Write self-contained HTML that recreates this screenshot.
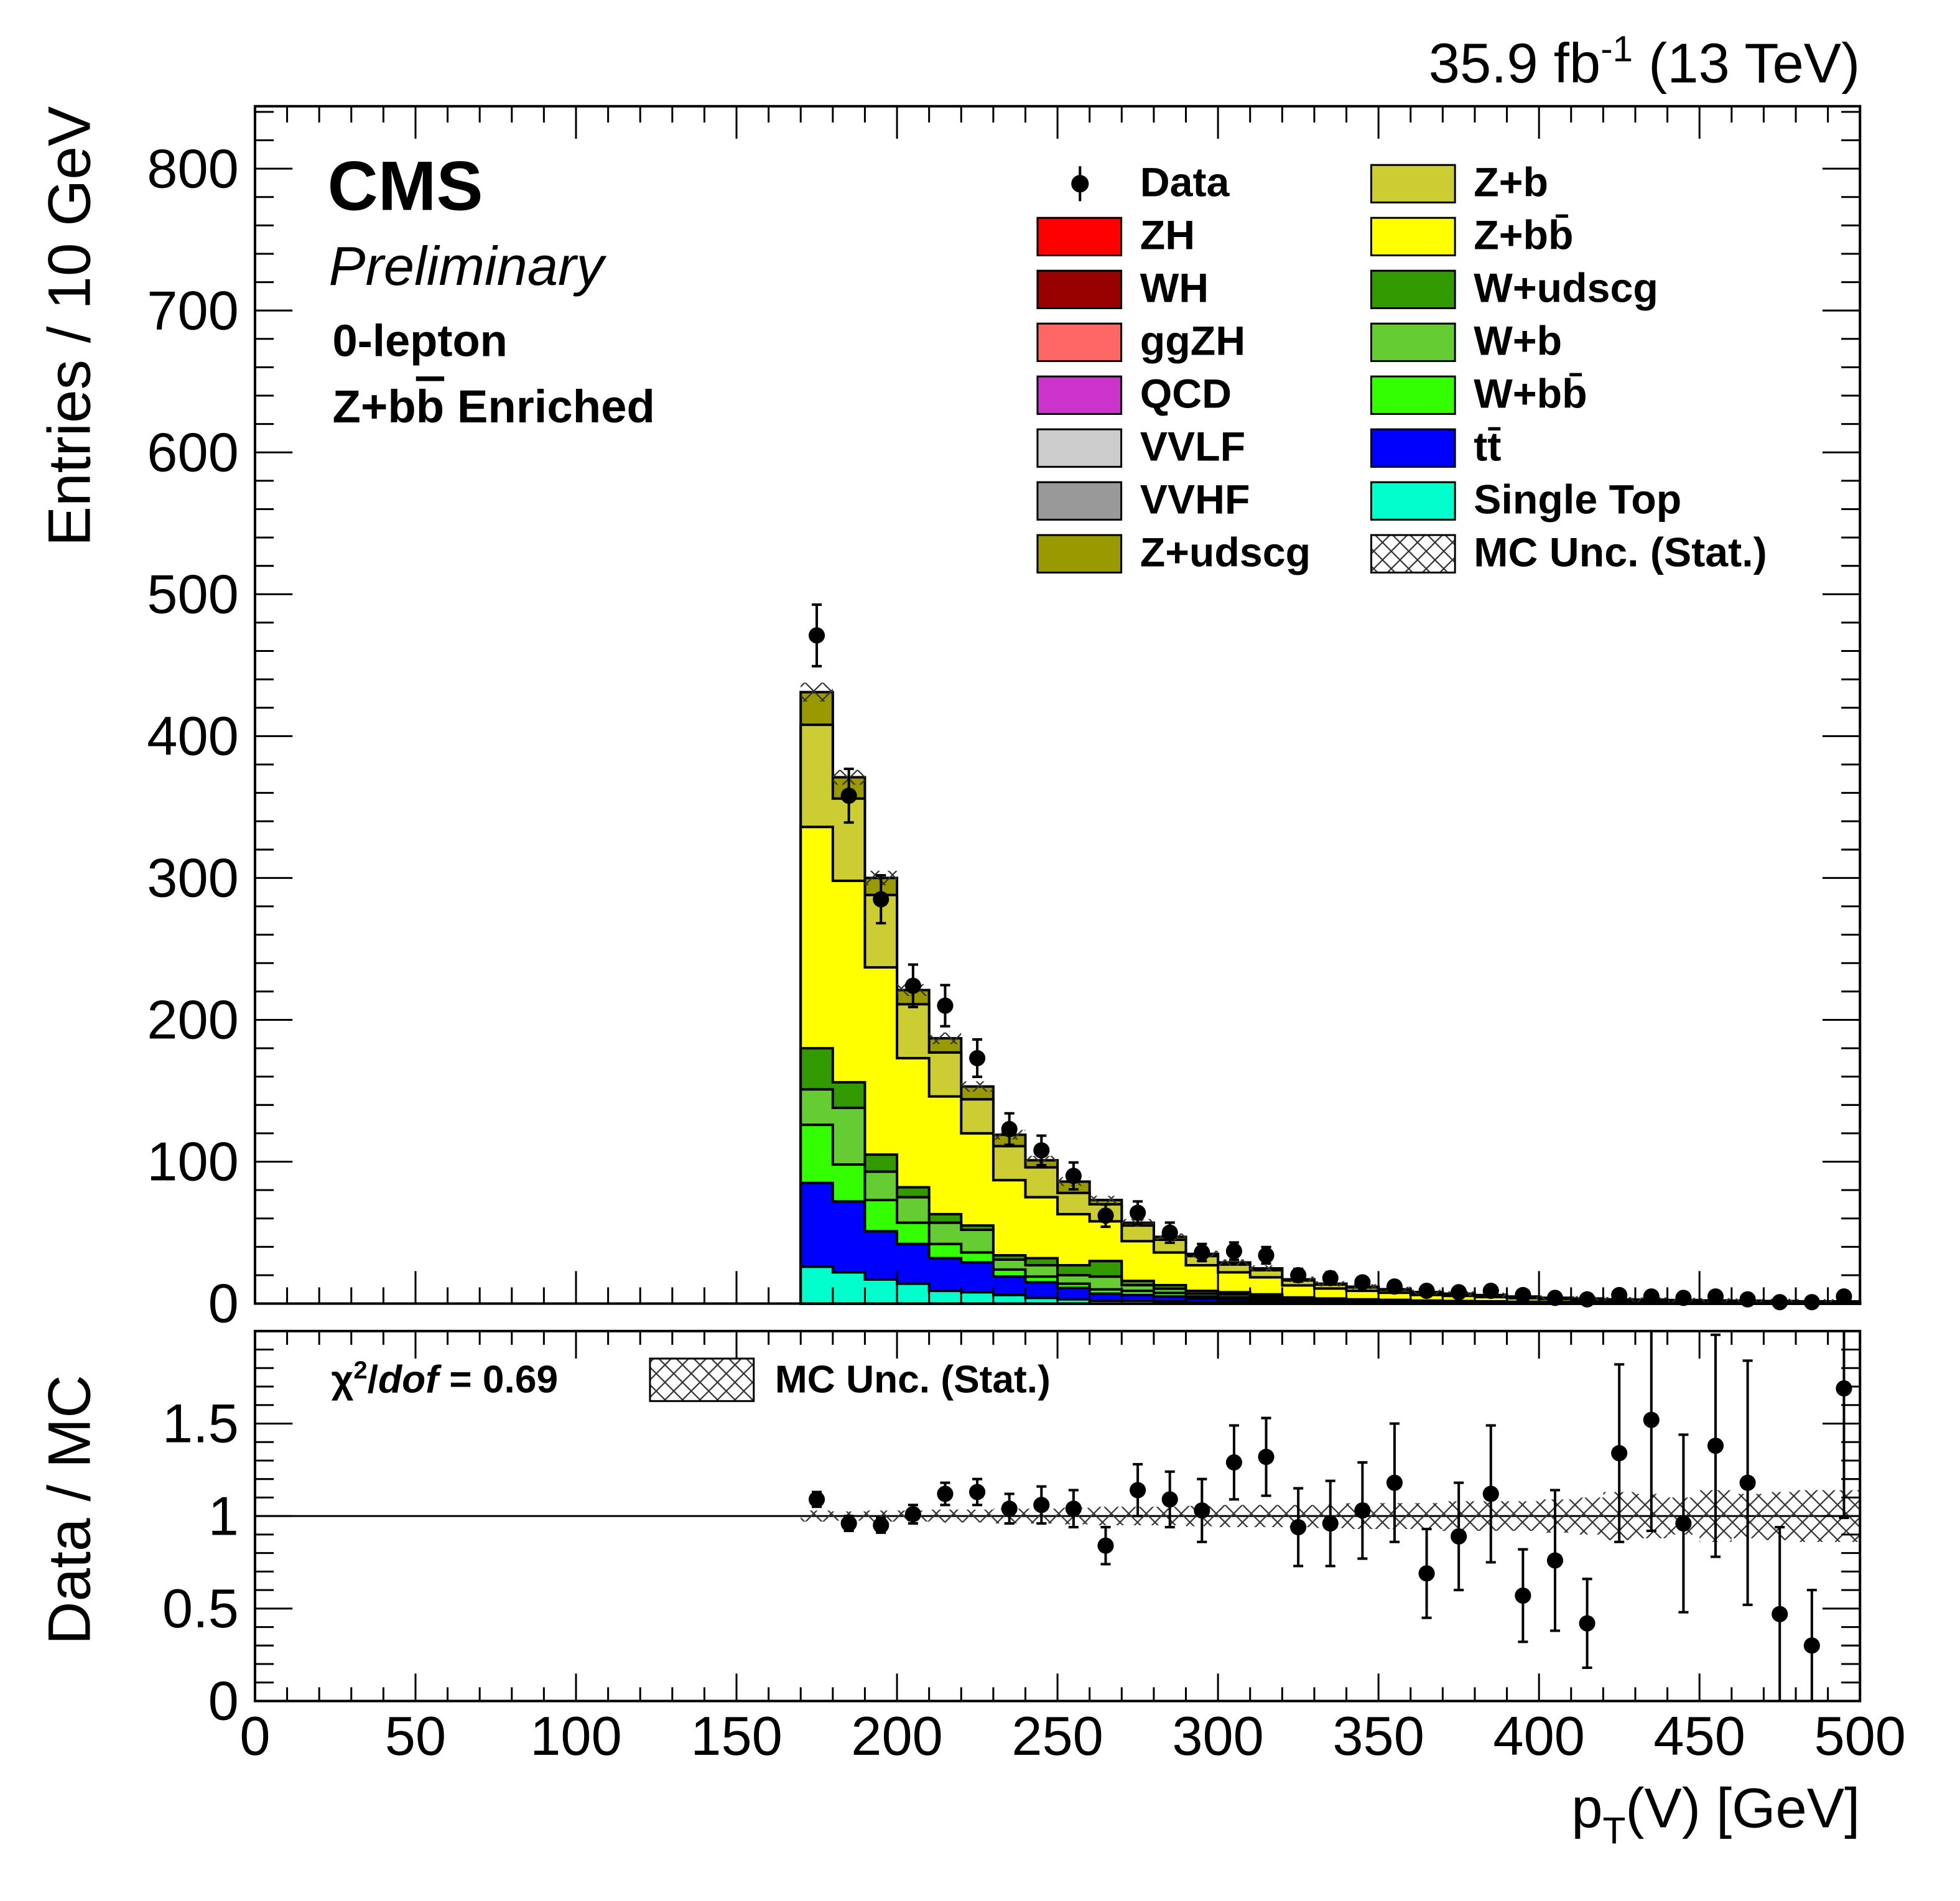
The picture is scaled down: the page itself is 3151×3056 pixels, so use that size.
<!DOCTYPE html>
<html><head><meta charset="utf-8"><style>
html,body{margin:0;padding:0;background:#fff}
svg{display:block}
text{font-family:"Liberation Sans",Arial,sans-serif}
</style></head><body>
<svg id="c" width="3151" height="3056" viewBox="0 0 1568 1521" preserveAspectRatio="none" xmlns="http://www.w3.org/2000/svg">
<defs>
<pattern id="hatch" patternUnits="userSpaceOnUse" width="14" height="14">
<path d="M0,0 L14,14 M14,0 L0,14" stroke="#333" stroke-width="1.1" fill="none"/>
</pattern>
</defs>
<g id="main"></g>
</svg>
<script>
const edges=[170,180,190,200,210,220,230,240,250,260,270,280,290,300,310,320,330,340,350,360,370,380,390,400,410,420,430,440,450,460,470,480,490,500];
const dataVals=[471,358,285,224,210,173,123,108,90,62,64,50,36,37,34,20,18,15,12,9,8,9,6,4,3,6,5,4,5,3,1,1,5];
const stVals=[26,22,17,14,9,8,6,4,3,2,2,1.5,1,1,0.8,0.5,0.4,0.3,0.3,0.2,0.2,0.2,0.1,0.1,0.1,0.1,0.1,0.1,0.1,0.1,0.1,0.1,0.1];
const ttVals=[59,50,34,28,23,21,13,11,8,5,4,3.5,2.5,2,1.8,1.2,1,0.8,0.7,0.6,0.5,0.4,0.4,0.3,0.3,0.2,0.2,0.2,0.2,0.2,0.1,0.1,0.1];
const wbbVals=[41,26,22,15,10,7,5,4,3,3,3,2.5,1.5,1.5,1.2,0.8,0.7,0.6,0.5,0.4,0.4,0.3,0.3,0.2,0.2,0.2,0.2,0.1,0.1,0.1,0.1,0.1,0.1];
const wbVals=[25,40,20,18,15,16,7,8,6,9,4,3,2,2,1.5,1,0.8,0.7,0.6,0.5,0.4,0.4,0.3,0.3,0.2,0.2,0.2,0.2,0.1,0.1,0.1,0.1,0.1];
const wudVals=[29,18,12,7,6,3,3,5,7,11,3,2.5,2,1.5,1.2,0.8,0.7,0.6,0.5,0.4,0.3,0.3,0.2,0.2,0.2,0.2,0.1,0.1,0.1,0.1,0.1,0.1,0.1];
const zbbVals=[156,142,132,91,83,65,53,43,36,28,28,23,18,14,12,8.5,7,6,5,4,3.6,3,2.5,2,1.7,1.5,1.4,1.3,1.1,1,0.9,0.8,0.7];
const zbVals=[72,58,51,38,31,24,24,21,15,12,11,9,6.5,5.5,5,3.5,2.8,2.4,2,1.6,1.3,1.1,1,0.8,0.7,0.5,0.5,0.4,0.4,0.3,0.3,0.2,0.2];
const zudVals=[23,15,12,10,10,9,8,5,8,3,2,2,1.5,1.5,1.3,0.8,0.6,0.5,0.5,0.4,0.3,0.3,0.2,0.2,0.2,0.1,0.1,0.1,0.1,0.1,0.1,0.1,0.1];
const ratioVals=[1.09,0.96,0.95,1.01,1.12,1.13,1.04,1.06,1.04,0.84,1.14,1.09,1.03,1.29,1.32,0.94,0.96,1.03,1.18,0.69,0.89,1.12,0.57,0.76,0.42,1.34,1.52,0.96,1.38,1.18,0.47,0.30,1.69];
const ratioErrs=[0.04,0.04,0.04,0.05,0.06,0.07,0.08,0.1,0.1,0.1,0.14,0.15,0.17,0.2,0.21,0.21,0.23,0.26,0.32,0.24,0.29,0.37,0.25,0.38,0.24,0.48,0.6,0.48,0.6,0.66,0.47,0.3,0.7];
const mcUncVals=[0.03,0.025,0.03,0.03,0.035,0.035,0.04,0.04,0.045,0.05,0.05,0.05,0.055,0.06,0.06,0.06,0.065,0.07,0.07,0.07,0.08,0.08,0.08,0.09,0.1,0.13,0.12,0.1,0.14,0.12,0.13,0.14,0.14];
const xTicks=[0,50,100,150,200,250,300,350,400,450,500];
const yTicks=[0,100,200,300,400,500,600,700,800];
const rTicks=[0,0.5,1,1.5];

const NS="http://www.w3.org/2000/svg";
const rootG=document.getElementById('main');
function el(tag,attrs,parent){const e=document.createElementNS(NS,tag);for(const k in attrs)e.setAttribute(k,attrs[k]);(parent||rootG).appendChild(e);return e;}
const X0=204,X1=1488,MT=85,MB=1043,RT=1065,RB=1361;
const xs=v=>X0+(v/500)*(X1-X0);
const ys=v=>MB-(v/844)*(MB-MT);
const yr=v=>RB-(v/2)*(RB-RT);

const comps=[stVals,ttVals,wbbVals,wbVals,wudVals,zbbVals,zbVals,zudVals];
const colors=['#00ffcc','#0000ff','#33ff00','#66cc33','#339900','#ffff00','#cccc33','#999900'];
const names=['single-top','ttbar','w-bb','w-b','w-udscg','z-bb','z-b','z-udscg'];
const cum=comps.map(()=>[]);
for(let i=0;i<edges.length-1;i++){let s=0;for(let c=0;c<comps.length;c++){s+=comps[c][i];cum[c][i]=s;}}
const stackG=el('g',{});


for(let c=comps.length-1;c>=0;c--){
  let d='M'+xs(edges[0])+','+ys(0);
  for(let i=0;i<edges.length-1;i++){d+=' L'+xs(edges[i])+','+ys(cum[c][i])+' L'+xs(edges[i+1])+','+ys(cum[c][i]);}
  d+=' L'+xs(edges[edges.length-1])+','+ys(0)+'Z';
  const p=el('path',{d:d,fill:colors[c],stroke:'#000','stroke-width':2},stackG);
  
  
}
const stackTop=cum[comps.length-1];
for(let i=0;i<edges.length-1;i++){
  const u=stackTop[i]*mcUncVals[i]*0.4+1.5;
  const r=el('rect',{x:xs(edges[i]),y:ys(stackTop[i]+u),width:xs(edges[i+1])-xs(edges[i]),height:ys(stackTop[i]-u)-ys(stackTop[i]+u),fill:'url(#hatch)'});
  
  
}
for(let i=0;i<dataVals.length;i++){
  const cx=xs((edges[i]+edges[i+1])/2),v=dataVals[i],e=Math.sqrt(v);
  const g=el('g',{});
  
  
  el('line',{x1:cx,x2:cx,y1:ys(v+e),y2:ys(Math.max(v-e,0)),stroke:'#000','stroke-width':2},g);
  if(e>4){el('line',{x1:cx-4,x2:cx+4,y1:ys(v+e),y2:ys(v+e),stroke:'#000','stroke-width':2},g);
  el('line',{x1:cx-4,x2:cx+4,y1:ys(v-e),y2:ys(v-e),stroke:'#000','stroke-width':2},g);}
  el('circle',{cx:cx,cy:ys(v),r:6.5,fill:'#000'},g);
}
el('line',{x1:X0,x2:X1,y1:yr(1),y2:yr(1),stroke:'#000','stroke-width':1.5});
for(let i=0;i<edges.length-1;i++){
  const u=mcUncVals[i];
  const r=el('rect',{x:xs(edges[i]),y:yr(1+u),width:xs(edges[i+1])-xs(edges[i]),height:yr(1-u)-yr(1+u),fill:'url(#hatch)'});
  
  
}
for(let i=0;i<ratioVals.length;i++){
  const cx=xs((edges[i]+edges[i+1])/2),v=ratioVals[i],e=ratioErrs[i];
  const g=el('g',{});
  
  
  const hi=Math.min(v+e,2),lo=Math.max(v-e,0);
  el('line',{x1:cx,x2:cx,y1:yr(hi),y2:yr(lo),stroke:'#000','stroke-width':2},g);
  if(v+e<2)el('line',{x1:cx-4,x2:cx+4,y1:yr(hi),y2:yr(hi),stroke:'#000','stroke-width':2},g);
  if(v-e>0)el('line',{x1:cx-4,x2:cx+4,y1:yr(lo),y2:yr(lo),stroke:'#000','stroke-width':2},g);
  el('circle',{cx:cx,cy:yr(v),r:6.5,fill:'#000'},g);
}
el('rect',{x:X0,y:MT,width:X1-X0,height:MB-MT,fill:'none',stroke:'#000','stroke-width':2});
el('rect',{x:X0,y:RT,width:X1-X0,height:RB-RT,fill:'none',stroke:'#000','stroke-width':2});
function xt(yb,yt,len){for(let v=0;v<=500;v+=10){const L=(v%50===0)?len:len/2;const x=xs(v);
  el('line',{x1:x,x2:x,y1:yb,y2:yb-L,stroke:'#000','stroke-width':1.5});
  el('line',{x1:x,x2:x,y1:yt,y2:yt+L,stroke:'#000','stroke-width':1.5});}}
xt(MB,MT,26);xt(RB,RT,22);
for(let v=0;v<=844;v+=20){const L=(v%100===0)?30:15;const y=ys(v);
  el('line',{x1:X0,x2:X0+L,y1:y,y2:y,stroke:'#000','stroke-width':1.5});
  el('line',{x1:X1,x2:X1-L,y1:y,y2:y,stroke:'#000','stroke-width':1.5});}
for(let k=0;k<=20;k++){const v=k/10;const L=(k%5===0)?30:15;const y=yr(v);
  el('line',{x1:X0,x2:X0+L,y1:y,y2:y,stroke:'#000','stroke-width':1.5});
  el('line',{x1:X1,x2:X1-L,y1:y,y2:y,stroke:'#000','stroke-width':1.5});}
for(const v of xTicks){const t=el('text',{x:xs(v),y:1404,'font-size':44,'text-anchor':'middle'});t.textContent=v;
  }
for(const v of yTicks){const t=el('text',{x:191,y:ys(v)+15,'font-size':44,'text-anchor':'end'});t.textContent=v;
  }
for(const v of rTicks){const t=el('text',{x:191,y:yr(v)+15,'font-size':44,'text-anchor':'end'});t.textContent=v;
  }
const leg=[['Data',null],['ZH','#ff0000'],['WH','#990000'],['ggZH','#ff6666'],['QCD','#cc33cc'],['VVLF','#cccccc'],['VVHF','#999999'],['Z+udscg','#999900'],
['Z+b','#cccc33'],['Z+bb̄','#ffff00'],['W+udscg','#339900'],['W+b','#66cc33'],['W+bb̄','#33ff00'],['tt̄','#0000ff'],['Single Top','#00ffcc'],['MC Unc. (Stat.)','hatch']];
leg.forEach((L,k)=>{const col=k<8?0:1,row=k%8;const bx=col?1097:830,y=145+row*42.3;
  const g=el('g',{});
  
  
  if(L[1]===null){el('circle',{cx:864,cy:y+2,r:7,fill:'#000'},g);el('line',{x1:864,x2:864,y1:y-12,y2:y+16,stroke:'#000','stroke-width':2},g);}
  else if(L[1]==='hatch'){el('rect',{x:bx,y:y-13,width:67,height:30,fill:'url(#hatch)',stroke:'#000','stroke-width':1.5},g);}
  else el('rect',{x:bx,y:y-13,width:67,height:30,fill:L[1],stroke:'#000','stroke-width':1.5},g);
  const t=el('text',{x:bx+82,y:y+12,'font-size':33,'font-weight':'bold'},g);t.textContent=L[0];});
</script>
<script>
(function(){
const svgRoot=document.getElementById('c');
const NS2="http://www.w3.org/2000/svg";
function tx(x,y,s,txt,attrs,name){const t=document.createElementNS(NS2,'text');t.setAttribute('x',x);t.setAttribute('y',y);t.setAttribute('font-size',s);
 for(const k in (attrs||{}))t.setAttribute(k,attrs[k]);t.innerHTML=txt;
 
 
 svgRoot.appendChild(t);return t;}
tx(262,168,56,'CMS',{'font-weight':'bold'},'cms-label');
tx(263,228,44,'Preliminary',{'font-style':'italic'},'preliminary-label');
tx(266,285,36,'0-lepton',{'font-weight':'bold'},'channel-label');
tx(266,338,37,'Z+b<tspan text-decoration="overline">b</tspan> Enriched',{'font-weight':'bold'},'region-label');
tx(1488,66,45,'35.9 fb<tspan dy="-17" font-size="29">-1</tspan><tspan dy="17"> (13 TeV)</tspan>',{'text-anchor':'end'},'lumi-label');
tx(0,0,48,'Entries / 10 GeV',{'text-anchor':'end',transform:'translate(72,85) rotate(-90)'},'y-axis-title');
tx(0,0,48,'Data / MC',{'text-anchor':'end',transform:'translate(72,1100) rotate(-90)'},'ratio-axis-title');
tx(1488,1462,45,'p<tspan dy="13" font-size="30">T</tspan><tspan dy="-13">(V) [GeV]</tspan>',{'text-anchor':'end'},'x-axis-title');
tx(265,1114,31,'χ<tspan dy="-11" font-size="20">2</tspan><tspan dy="11">/</tspan><tspan font-style="italic">dof</tspan> = 0.69',{'font-weight':'bold'},'chi2-label');
const r=document.createElementNS(NS2,'rect');r.setAttribute('x',520);r.setAttribute('y',1087);r.setAttribute('width',83);r.setAttribute('height',34);r.setAttribute('fill','url(#hatch)');r.setAttribute('stroke','#000');r.setAttribute('stroke-width',1.5);


svgRoot.appendChild(r);
tx(620,1114,31,'MC Unc. (Stat.)',{'font-weight':'bold'},'ratio-legend-label');
})();
</script>
</body></html>
